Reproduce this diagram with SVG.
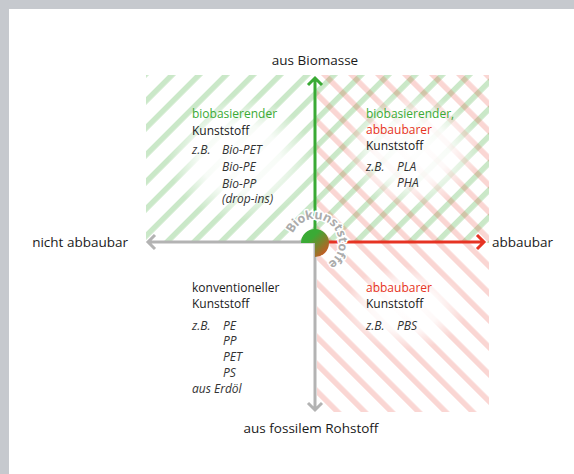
<svg xmlns="http://www.w3.org/2000/svg" width="574" height="474" viewBox="0 0 574 474">
<defs>
<style>
text{font-family:"Open Sans","Liberation Sans",sans-serif;font-size:12px;fill:#1a1a1a}
.ax{font-size:13.5px}
.g{fill:#3aaa35}
.r{fill:#e63323}
.i{font-style:italic;fill:#333}
.arc{font-weight:bold;font-size:12.5px;fill:#ababab;stroke:#fff;stroke-width:3px;paint-order:stroke;stroke-linejoin:round;letter-spacing:-0.2px}
.lg{stroke:#3aaa35;stroke-width:3;fill:none}
.lr{stroke:#e63323;stroke-width:3;fill:none}
.ly{stroke:#b3b3b3;stroke-width:3;fill:none}
</style>
<pattern id="pg" patternUnits="userSpaceOnUse" width="19.1" height="20" patternTransform="rotate(45)">
<rect x="0" y="0" width="5.5" height="20" fill="#3aaa35" fill-opacity="0.27"/>
</pattern>
<pattern id="pr" patternUnits="userSpaceOnUse" width="19.1" height="20" patternTransform="rotate(-45) translate(2,0)">
<rect x="0" y="0" width="5.5" height="20" fill="#e63323" fill-opacity="0.2"/>
</pattern>
<radialGradient id="glow">
<stop offset="0" stop-color="#fff" stop-opacity="1"/>
<stop offset="0.55" stop-color="#fff" stop-opacity="0.85"/>
<stop offset="1" stop-color="#fff" stop-opacity="0"/>
</radialGradient>
<linearGradient id="cg" x1="0" y1="0" x2="1" y2="1">
<stop offset="0.35" stop-color="#3aaa35"/>
<stop offset="1" stop-color="#e8471f"/>
</linearGradient>
<path id="arcp" d="M299.57,261.39 A24,24 0 0 1 330.43,224.61 A24,24 0 0 1 299.57,261.39"/>
</defs>
<rect x="0" y="0" width="574" height="474" fill="#c6c9ce"/>
<rect x="9" y="9" width="565" height="465" fill="#fff"/>
<g id="hatch">
<rect x="146" y="75" width="343" height="168" fill="url(#pg)"/>
<rect x="317" y="75" width="172" height="337" fill="url(#pr)"/>
<ellipse cx="240" cy="158" rx="72" ry="62" fill="url(#glow)"/>
<ellipse cx="412" cy="150" rx="68" ry="58" fill="url(#glow)"/>
<ellipse cx="405" cy="308" rx="62" ry="42" fill="url(#glow)"/>
</g>
<g id="connectors">
<path class="lg" d="M315,243 V78 M308,85 L315,78 L322,85"/>
<path class="lr" d="M315,242 H484 M477,235 L484,242 L477,249"/>
<path class="ly" d="M315,242 H148 M155,235 L148,242 L155,249"/>
<path class="ly" d="M315,241 V410 M308,403 L315,410 L322,403"/>
</g>
<g id="center">
<text class="arc"><textPath href="#arcp" startOffset="50%" text-anchor="middle">Biokunststoffe</textPath></text>
<path d="M315,243 L301,243 A14,14 0 1 1 315,257 Z" fill="url(#cg)"/>
</g>
<g id="label-top"><text class="ax" x="315" y="65" text-anchor="middle">aus Biomasse</text></g>
<g id="label-bottom"><text class="ax" x="311" y="433" text-anchor="middle">aus fossilem Rohstoff</text></g>
<g id="label-left"><text class="ax" x="128" y="247" text-anchor="end">nicht abbaubar</text></g>
<g id="label-right"><text class="ax" x="492" y="247">abbaubar</text></g>
<g id="q-topleft">
<text class="g" x="192" y="117.5">biobasierender</text>
<text x="192" y="135">Kunststoff</text>
<text class="i" x="192" y="154">z.B.</text>
<text class="i" x="222" y="154">Bio-PET</text>
<text class="i" x="222" y="171">Bio-PE</text>
<text class="i" x="222" y="187.5">Bio-PP</text>
<text class="i" x="222" y="203">(drop-ins)</text>
</g>
<g id="q-topright">
<text class="g" x="366" y="117.5">biobasierender,</text>
<text class="r" x="366" y="133.5">abbaubarer</text>
<text x="366" y="149.5">Kunststoff</text>
<text class="i" x="366" y="170.5">z.B.</text>
<text class="i" x="397" y="170.5">PLA</text>
<text class="i" x="397" y="187">PHA</text>
</g>
<g id="q-bottomleft">
<text x="192" y="292">konventioneller</text>
<text x="192" y="307.5">Kunststoff</text>
<text class="i" x="192" y="329.5">z.B.</text>
<text class="i" x="223" y="329.5">PE</text>
<text class="i" x="223" y="345">PP</text>
<text class="i" x="223" y="361">PET</text>
<text class="i" x="223" y="377">PS</text>
<text class="i" x="192" y="393">aus Erdöl</text>
</g>
<g id="q-bottomright">
<text class="r" x="366" y="292">abbaubarer</text>
<text x="366" y="307.5">Kunststoff</text>
<text class="i" x="366" y="329.5">z.B.</text>
<text class="i" x="397" y="329.5">PBS</text>
</g>
</svg>
